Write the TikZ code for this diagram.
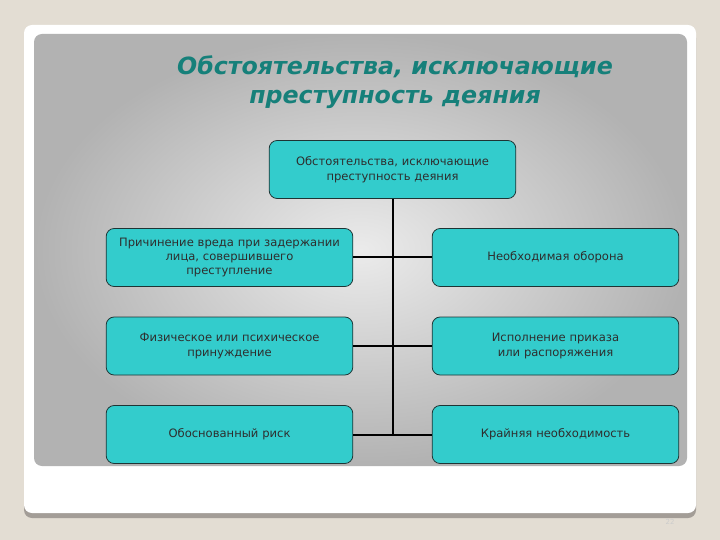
\documentclass[tikz,border=0pt]{standalone}
\usepackage{fontspec}
\setmainfont{DejaVu Sans}
\usetikzlibrary{positioning, calc}
\definecolor{slidebg}{HTML}{E3DDD3}
\definecolor{cardshadow}{HTML}{A39D97}
\definecolor{panelin}{HTML}{EBEBEB}
\definecolor{panelout}{HTML}{B2B2B2}
\definecolor{boxfill}{HTML}{33CCCC}
\definecolor{boxline}{HTML}{1E3434}
\definecolor{titleteal}{HTML}{16807A}
\definecolor{boxtext}{HTML}{2E2E2E}
\tikzset{
  cbox/.style={rectangle, rounded corners=8bp, draw=boxline, line width=0.8bp,
               fill=boxfill, minimum width=245bp, minimum height=58bp,
               text width=240bp, align=center, text=boxtext,
               font=\fontsize{11.6}{14.5}\selectfont},
  ttl/.style={font=\fontsize{23.8}{29}\selectfont\bfseries\itshape,
              text=titleteal, align=center},
  link/.style={draw=black, line width=2bp},
}

\begin{document}
\begin{tikzpicture}[x=1bp, y=-1bp]
  \useasboundingbox (0,0) rectangle (720,540);
  % slide background and card
  \fill[slidebg] (0,0) rectangle (720,540);
  \fill[cardshadow, rounded corners=8bp] (24,30) rectangle (696,518);
  \fill[white, rounded corners=8bp] (24,25) rectangle (696,513);
  \shade[inner color=panelin, outer color=panelout, rounded corners=8bp]
    (34,34) rectangle (687,466);

  % Title
  \node[ttl] (title) at (395,82.5) {Обстоятельства, исключающие\\преступность деяния};

  % Boxes
  \node[cbox] (top) at (392.5,169.5) {Обстоятельства, исключающие\\преступность деяния};
  \node[cbox] (l1) at (229.5,257.5) {Причинение вреда при задержании\\лица, совершившего\\преступление};
  \node[cbox] (r1) at (555.5,257.5) {Необходимая оборона};
  \node[cbox] (l2) at (229.5,346) {Физическое или психическое\\принуждение};
  \node[cbox] (r2) at (555.5,346) {Исполнение приказа\\или распоряжения};
  \node[cbox] (l3) at (229.5,434.5) {Обоснованный риск};
  \node[cbox] (r3) at (555.5,434.5) {Крайняя необходимость};

  % Connectors
  \draw[link] (top.south) -- (top.south |- l3.east);
  \draw[link] (l1.east) -- (r1.west);
  \draw[link] (l2.east) -- (r2.west);
  \draw[link] (l3.east) -- (r3.west);

  % slide number
  \node[font=\fontsize{7}{8}\selectfont, text=black!20] (pgno) at (670,522) {22};
\end{tikzpicture}
\end{document}
